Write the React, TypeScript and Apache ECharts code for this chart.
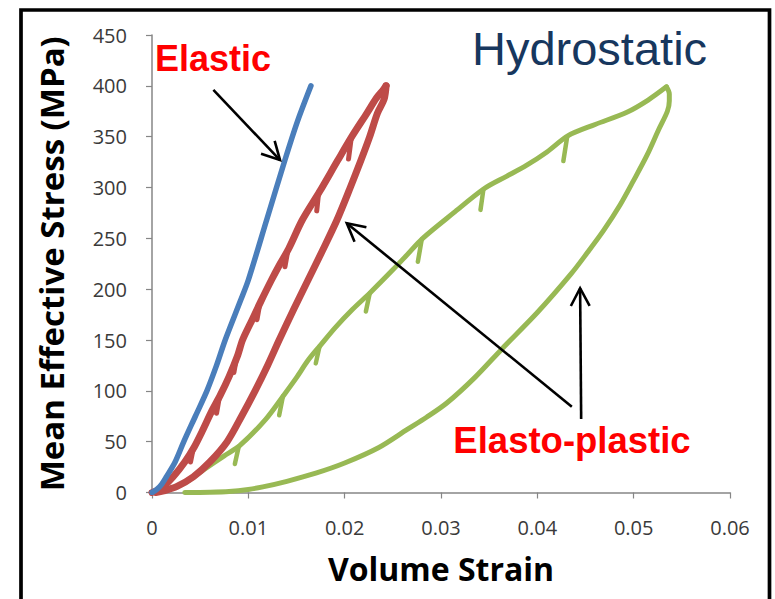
import React, { useEffect, useRef } from "react";
import * as echarts from "echarts";

// Tick labels
const xTickLabels = ["0", "0.01", "0.02", "0.03", "0.04", "0.05", "0.06"];
const yTickLabels = ["0", "50", "100", "150", "200", "250", "300", "350", "400", "450"];

// [volume strain, mean effective stress (MPa)]
const elasticCurve: number[][] = [
  [0, 0], [0.0005, 3], [0.001, 8], [0.0015, 15.5], [0.0024, 30], [0.0033, 50],
  [0.0045, 75], [0.0057, 100], [0.0067, 125], [0.0076, 150], [0.0092, 189],
  [0.01, 209], [0.0119, 268], [0.0138, 327], [0.0151, 365], [0.0165, 400],
];

// Elasto-plastic sample A
const plasticALoading: number[][] = [
  [0, 0], [0.0006, 2], [0.0012, 6], [0.0022, 15.5], [0.0034, 30], [0.0044, 45],
  [0.0052, 60], [0.0062, 80], [0.0071, 96], [0.008, 114], [0.0089, 135], [0.0094, 150],
  [0.0104, 170], [0.0113, 188], [0.0124, 209], [0.0133, 225], [0.0142, 240],
  [0.0156, 268], [0.0174, 296], [0.0193, 327], [0.0208, 351], [0.0223, 373],
  [0.0233, 388], [0.024, 396], [0.0243, 400],
];
const plasticAUnloading: number[][] = [
  [0.0243, 400], [0.0241, 387], [0.0234, 373], [0.0226, 350], [0.0217, 327],
  [0.0205, 298], [0.0192, 268], [0.0177, 238], [0.0162, 209], [0.0147, 180],
  [0.0132, 150], [0.012, 125], [0.0107, 100], [0.0093, 75], [0.0078, 50],
  [0.006, 30], [0.0043, 15.5], [0.0026, 6], [0.0012, 1.5], [0.0004, 0],
];
// Hold-stage relaxation hooks: [peak strain, peak stress, tail strain, tail stress]
const plasticAHooks: number[][] = [
  [0.0043, 44, 0.004, 30], [0.007, 94, 0.0067, 78], [0.0088, 134, 0.0085, 118],
  [0.0112, 186, 0.0109, 170], [0.0141, 238, 0.0138, 222], [0.0173, 295, 0.0171, 277],
  [0.0207, 350, 0.0204, 328],
];

// Elasto-plastic sample B
const plasticBLoading: number[][] = [
  [0, 0], [0.0015, 3], [0.0033, 9], [0.0053, 22], [0.0075, 36], [0.0091, 46],
  [0.0118, 72], [0.0137, 96], [0.015, 113], [0.0162, 130], [0.0175, 145],
  [0.019, 162], [0.0208, 180], [0.0227, 197], [0.025, 219], [0.0265, 234],
  [0.0281, 250], [0.0313, 275], [0.0345, 299], [0.0368, 311], [0.0389, 322],
  [0.041, 335], [0.0432, 351], [0.046, 362], [0.0493, 374], [0.0515, 386], [0.0534, 399],
];
const plasticBUnloading: number[][] = [
  [0.0534, 399], [0.0537, 392], [0.0537, 385], [0.0535, 375], [0.0526, 357], [0.0514, 332],
  [0.05, 307], [0.0486, 283], [0.0469, 258], [0.0452, 236], [0.0435, 215],
  [0.04, 177], [0.0363, 141], [0.0335, 113], [0.0306, 88], [0.0285, 74],
  [0.0265, 62], [0.0235, 44], [0.02, 29], [0.017, 19], [0.014, 11],
  [0.0115, 5.5], [0.01, 3], [0.008, 1], [0.006, 0.3], [0.0034, 0],
];
const plasticBHooks: number[][] = [
  [0.009, 45, 0.0086, 28], [0.0136, 95, 0.0132, 76], [0.0174, 144, 0.017, 127],
  [0.0226, 196, 0.0222, 178], [0.028, 249, 0.0276, 227], [0.0344, 298, 0.0341, 278],
  [0.0431, 350, 0.0427, 326],
];

// Annotation arrows in data space: [tail, tip]
const elasticArrow: number[][] = [[0.00637, 396], [0.01329, 327]];
const plasticArrows: number[][][] = [
  [[0.04358, 84.4], [0.02022, 264.8]],
  [[0.04455, 72.3], [0.04444, 200.9]],
];

const BLUE = "#4A7EBB";
const RED = "#BE4B48";
const GREEN = "#98B954";
const AXIS_GREY = "#868686";

function arrowGraphics(chart: echarts.ECharts, tail: number[], tip: number[]) {
  const a = chart.convertToPixel({ gridIndex: 0 }, tail) as number[];
  const b = chart.convertToPixel({ gridIndex: 0 }, tip) as number[];
  const dx = b[0] - a[0];
  const dy = b[1] - a[1];
  const len = Math.hypot(dx, dy);
  const ux = dx / len;
  const uy = dy / len;
  const head = 20;
  const ang = (28 * Math.PI) / 180;
  const arm = (s: number) => {
    const c = Math.cos(s * ang);
    const sn = Math.sin(s * ang);
    const rx = ux * c - uy * sn;
    const ry = ux * sn + uy * c;
    return [b[0] - rx * head, b[1] - ry * head];
  };
  const style = { stroke: "#000", lineWidth: 2.6, fill: null as any, lineJoin: "miter" as const };
  return [
    { type: "polyline", silent: true, z: 20, shape: { points: [a, b] }, style },
    { type: "polyline", silent: true, z: 20, shape: { points: [arm(1), b, arm(-1)] }, style },
  ];
}

export default function App() {
  const ref = useRef<HTMLDivElement>(null);

  useEffect(() => {
    document.body.style.margin = "0";
    if (!ref.current) return;
    const chart = echarts.init(ref.current, undefined, { renderer: "svg" });

    const curve = (name: string, data: number[][], color: string, width: number, z: number) => ({
      name,
      type: "line",
      data,
      showSymbol: false,
      symbol: "none",
      smooth: 0.3,
      lineStyle: { color, width, cap: "round", join: "round" },
      itemStyle: { color },
      z,
    });

    const hooks = (name: string, rows: number[][], color: string, width: number, z: number) => ({
      name,
      type: "lines",
      coordinateSystem: "cartesian2d",
      polyline: false,
      silent: true,
      z,
      lineStyle: { color, width, opacity: 1, cap: "round" },
      data: rows.map((r) => ({ coords: [[r[0], r[1]], [r[2], r[3]]] })),
    });

    chart.setOption({
      animation: false,
      backgroundColor: "#ffffff",
      grid: { left: 152, right: 45, top: 35, bottom: 106.5, containLabel: false },
      xAxis: {
        type: "value",
        min: 0,
        max: 0.06,
        interval: 0.01,
        name: "Volume Strain",
        nameLocation: "middle",
        nameGap: 60,
        nameTextStyle: { fontFamily: "Open Sans", fontWeight: "bold", fontSize: 32, color: "#000" },
        axisLine: { show: true, lineStyle: { color: AXIS_GREY, width: 1.5 } },
        axisTick: { show: true, length: 6, lineStyle: { color: AXIS_GREY, width: 1.2 } },
        splitLine: { show: false },
        axisLabel: {
          margin: 25,
          fontFamily: "Open Sans",
          fontSize: 20,
          color: "#3a3a3a",
          formatter: (_v: number, i: number) => xTickLabels[i] ?? "",
        },
      },
      yAxis: {
        type: "value",
        min: 0,
        max: 450,
        interval: 50,
        name: "Mean Effective Stress (MPa)",
        nameLocation: "middle",
        nameGap: 84,
        nameTextStyle: { fontFamily: "Open Sans", fontWeight: "bold", fontSize: 33, color: "#000" },
        axisLine: { show: true, lineStyle: { color: AXIS_GREY, width: 1.5 } },
        axisTick: { show: true, length: 6, lineStyle: { color: AXIS_GREY, width: 1.2 } },
        splitLine: { show: false },
        axisLabel: {
          margin: 25,
          fontFamily: "Open Sans",
          fontSize: 20,
          color: "#3a3a3a",
          formatter: (_v: number, i: number) => yTickLabels[i] ?? "",
        },
      },
      series: [
        curve("Elasto-plastic B loading", plasticBLoading, GREEN, 5, 3),
        curve("Elasto-plastic B unloading", plasticBUnloading, GREEN, 5, 3),
        hooks("Elasto-plastic B holds", plasticBHooks, GREEN, 4.5, 3),
        curve("Elasto-plastic A loading", plasticALoading, RED, 7, 4),
        curve("Elasto-plastic A unloading", plasticAUnloading, RED, 7, 4),
        hooks("Elasto-plastic A holds", plasticAHooks, RED, 5, 4),
        curve("Elastic", elasticCurve, BLUE, 5.5, 5),
      ],
    });

    const arrows = [
      ...arrowGraphics(chart, elasticArrow[0], elasticArrow[1]),
      ...plasticArrows.flatMap((p) => arrowGraphics(chart, p[0], p[1])),
    ];

    chart.setOption({
      graphic: [
        {
          type: "rect",
          silent: true,
          z: 30,
          shape: { x: 21, y: 10, width: 748.5, height: 640 },
          style: { fill: "transparent", stroke: "#000", lineWidth: 3.7 },
        },
        {
          type: "text",
          silent: true,
          z: 25,
          x: 155,
          y: 58.5,
          style: {
            text: "Elastic",
            fill: "#FF0000",
            fontFamily: "Liberation Sans",
            fontWeight: "bold",
            fontSize: 36,
            align: "left",
            verticalAlign: "middle",
          },
        },
        {
          type: "text",
          silent: true,
          z: 25,
          x: 572,
          y: 440.5,
          style: {
            text: "Elasto-plastic",
            fill: "#FF0000",
            fontFamily: "Liberation Sans",
            fontWeight: "bold",
            fontSize: 36.5,
            align: "center",
            verticalAlign: "middle",
          },
        },
        {
          type: "text",
          silent: true,
          z: 25,
          x: 472,
          y: 48.5,
          style: {
            text: "Hydrostatic",
            fill: "#17375E",
            fontFamily: "Liberation Sans",
            fontSize: 47,
            align: "left",
            verticalAlign: "middle",
          },
        },
        ...arrows,
      ],
    });

    return () => chart.dispose();
  }, []);

  return <div ref={ref} style={{ width: 775, height: 599 }} />;
}
